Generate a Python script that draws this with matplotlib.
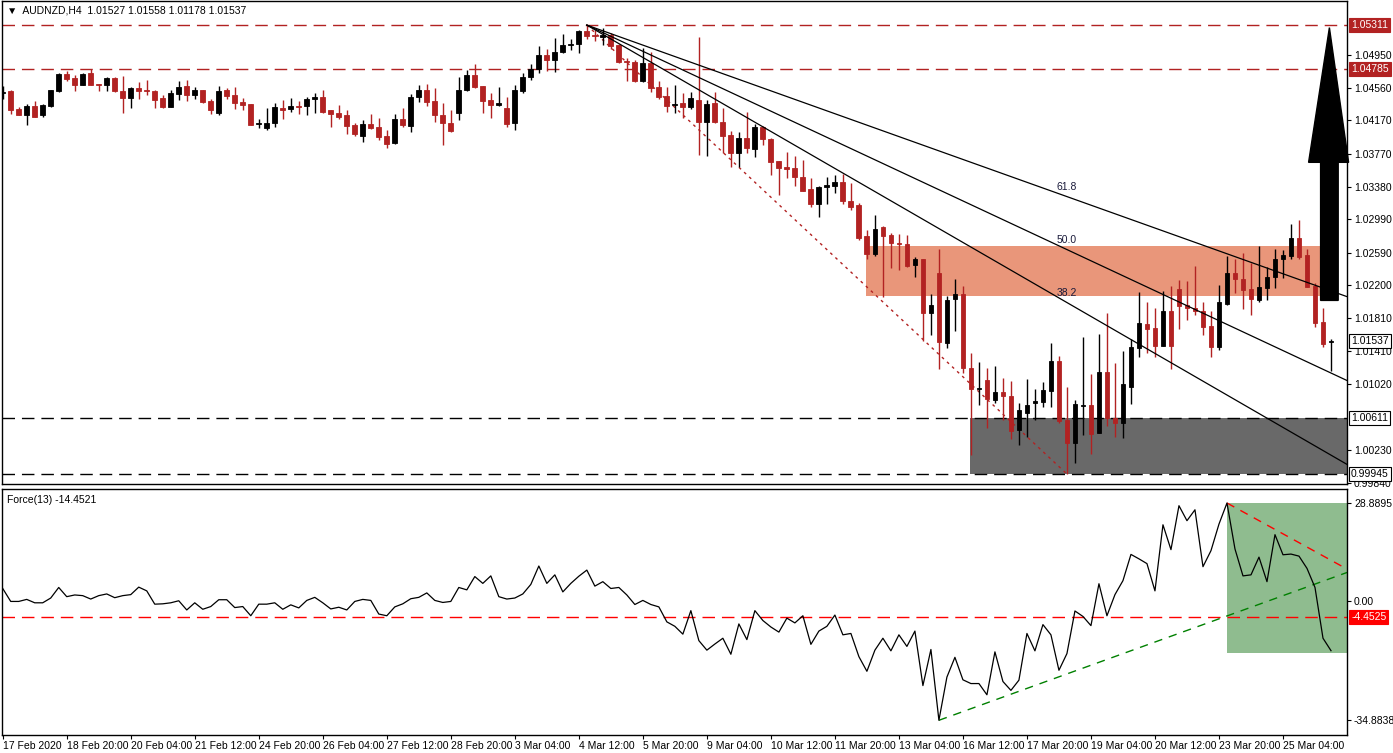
import matplotlib
matplotlib.use("Agg")
import matplotlib.pyplot as plt
from matplotlib.patches import Rectangle, Polygon
import numpy as np

plt.rcParams['font.family'] = ['Liberation Sans', 'DejaVu Sans']

opens = [1.0450,1.0452,1.0431,1.0424,1.0434,1.0423,1.0434,1.0452,1.0472,1.0468,
1.0459,1.0474,1.0461,1.0460,1.0468,1.0452,1.0444,1.0456,1.0453,1.0452,
1.0444,1.0433,1.0449,1.0458,1.0447,1.0454,1.0440,1.0426,1.0453,1.0447,
1.0439,1.0437,1.0413,1.0408,1.0414,1.0432,1.0431,1.0434,1.0434,1.0443,
1.0445,1.0429,1.0426,1.0423,1.0412,1.0399,1.0413,1.0409,1.0399,1.0390,
1.0419,1.0411,1.0445,1.0454,1.0440,1.0424,1.0414,1.0426,1.0453,1.0471,
1.0458,1.0441,1.0435,1.0432,1.0414,1.0452,1.0469,1.0479,1.0495,1.0489,
1.0499,1.0507,1.0508,1.0524,1.0519,1.0517,1.0519,1.0507,1.0488,1.0487,
1.0464,1.0486,1.0457,1.0446,1.0435,1.0438,1.0433,1.0441,1.0415,1.0438,
1.0415,1.0400,1.0378,1.0396,1.0383,1.0409,1.0395,1.0369,1.0361,1.0360,
1.0349,1.0335,1.0317,1.0337,1.0339,1.0344,1.0321,1.0316,1.0279,1.0258,
1.0290,1.0280,1.0271,1.0269,1.0244,1.0252,1.0187,1.0235,1.0151,1.0204,
1.0210,1.0121,1.0096,1.0107,1.0083,1.0093,1.0088,1.0047,1.0067,1.0079,
1.0081,1.0094,1.0130,1.0059,1.0032,1.0076,1.0077,1.0044,1.0117,1.0062,
1.0056,1.0099,1.0145,1.0174,1.0169,1.0147,1.0189,1.0216,1.0196,1.0193,
1.0189,1.0171,1.0146,1.0198,1.0235,1.0228,1.0216,1.0203,1.0217,1.0230,
1.0252,1.0255,1.0277,1.0256,1.0219,1.0176,1.01527]

closes = [1.0451,1.0430,1.0424,1.0434,1.0421,1.0435,1.0453,1.0472,1.0467,1.0459,
1.0472,1.0460,1.0460,1.0468,1.0452,1.0444,1.0456,1.0452,1.0452,1.0441,
1.0433,1.0450,1.0457,1.0447,1.0454,1.0439,1.0429,1.0452,1.0446,1.0438,
1.0435,1.0412,1.0414,1.0414,1.0433,1.0430,1.0434,1.0433,1.0443,1.0445,
1.0427,1.0425,1.0421,1.0411,1.0401,1.0413,1.0408,1.0397,1.0389,1.0419,
1.0412,1.0445,1.0454,1.0439,1.0423,1.0414,1.0405,1.0454,1.0471,1.0457,
1.0440,1.0435,1.0438,1.0413,1.0453,1.0469,1.0479,1.0495,1.0489,1.0499,
1.0507,1.0508,1.0524,1.0518,1.0518,1.0519,1.0506,1.0487,1.0487,1.0464,
1.0486,1.0456,1.0445,1.0434,1.0437,1.0433,1.0444,1.0415,1.0437,1.0415,
1.0399,1.0378,1.0396,1.0384,1.0409,1.0395,1.0367,1.0360,1.0359,1.0349,
1.0333,1.0317,1.0337,1.0340,1.0344,1.0321,1.0314,1.0277,1.0258,1.0287,
1.0279,1.0271,1.0269,1.0243,1.0252,1.0187,1.0196,1.0152,1.0202,1.0210,
1.0121,1.0096,1.0097,1.0084,1.0093,1.0088,1.0046,1.0071,1.0077,1.0082,
1.0095,1.0130,1.0058,1.0032,1.0078,1.0077,1.0042,1.0117,1.0061,1.0056,
1.0102,1.0146,1.0175,1.0168,1.0147,1.0189,1.0148,1.0195,1.0193,1.0189,
1.0170,1.0146,1.0200,1.0235,1.0228,1.0214,1.0204,1.0218,1.0230,1.0252,
1.0256,1.0277,1.0254,1.0218,1.0175,1.0150,1.01537]

highs = [1.0458,1.0453,1.0433,1.0437,1.0440,1.0437,1.0454,1.0474,1.0476,1.0471,
1.0474,1.0479,1.0461,1.0469,1.0469,1.0470,1.0457,1.0463,1.0465,1.0453,
1.0447,1.0453,1.0464,1.0465,1.0457,1.0454,1.0443,1.0458,1.0456,1.0457,
1.0444,1.0437,1.0419,1.0432,1.0438,1.0441,1.0444,1.0440,1.0445,1.0450,
1.0454,1.0429,1.0435,1.0430,1.0414,1.0418,1.0425,1.0420,1.0406,1.0425,
1.0432,1.0449,1.0460,1.0461,1.0456,1.0438,1.0430,1.0469,1.0477,1.0485,
1.0458,1.0450,1.0457,1.0445,1.0460,1.0474,1.0485,1.0506,1.0502,1.0516,
1.0520,1.0514,1.0525,1.0531,1.0525,1.0528,1.0522,1.0508,1.0492,1.0489,
1.0504,1.0499,1.0464,1.0457,1.0459,1.0450,1.0451,1.0517,1.0441,1.0451,
1.0432,1.0405,1.0403,1.0427,1.0413,1.0411,1.0396,1.0369,1.0379,1.0375,
1.0370,1.0348,1.0339,1.0349,1.0352,1.0353,1.0342,1.0318,1.0286,1.0304,
1.0291,1.0282,1.0281,1.0280,1.0254,1.0252,1.0210,1.0263,1.0207,1.0228,
1.0219,1.0139,1.0128,1.0121,1.0124,1.0109,1.0106,1.0079,1.0108,1.0096,
1.0104,1.0151,1.0136,1.0099,1.0083,1.0158,1.0114,1.0162,1.0187,1.0127,
1.0142,1.0156,1.0212,1.0200,1.0193,1.0213,1.0219,1.0226,1.0225,1.0243,
1.0200,1.0189,1.0220,1.0255,1.0252,1.0259,1.0247,1.0267,1.0242,1.0264,
1.0262,1.0293,1.0298,1.0263,1.0223,1.0193,1.01558]

lows = [1.0443,1.0425,1.0423,1.0412,1.0421,1.0421,1.0433,1.0451,1.0464,1.0452,
1.0459,1.0459,1.0452,1.0452,1.0451,1.0426,1.0432,1.0443,1.0447,1.0432,
1.0432,1.0433,1.0441,1.0440,1.0443,1.0438,1.0425,1.0423,1.0443,1.0431,
1.0430,1.0412,1.0408,1.0406,1.0409,1.0419,1.0427,1.0425,1.0423,1.0426,
1.0426,1.0409,1.0419,1.0401,1.0399,1.0391,1.0407,1.0394,1.0384,1.0389,
1.0409,1.0403,1.0439,1.0434,1.0415,1.0388,1.0403,1.0417,1.0452,1.0456,
1.0426,1.0420,1.0434,1.0409,1.0406,1.0450,1.0465,1.0474,1.0476,1.0475,
1.0498,1.0501,1.0498,1.0514,1.0512,1.0507,1.0502,1.0486,1.0464,1.0463,
1.0463,1.0451,1.0443,1.0427,1.0426,1.0420,1.0431,1.0376,1.0375,1.0414,
1.0378,1.0361,1.0361,1.0378,1.0373,1.0388,1.0352,1.0328,1.0348,1.0339,
1.0333,1.0314,1.0302,1.0317,1.0330,1.0317,1.0310,1.0274,1.0252,1.0255,
1.0206,1.0241,1.0238,1.0242,1.0230,1.0153,1.0161,1.0120,1.0145,1.0165,
1.0115,1.0017,1.0077,1.0050,1.0079,1.0059,1.0036,1.0029,1.0039,1.0059,
1.0075,1.0075,1.0056,0.99945,1.0008,1.0041,1.0018,1.0044,1.0052,1.0039,
1.0037,1.0078,1.0134,1.0139,1.0134,1.0147,1.0120,1.0168,1.0179,1.0185,
1.0161,1.0134,1.0143,1.0196,1.0211,1.0192,1.0185,1.0200,1.0203,1.0217,
1.0229,1.0252,1.0252,1.0218,1.0170,1.0146,1.01178]

force = [3.8,0,0,0.6,-0.4,-0.4,1.0,4.1,1.4,1.9, 1.7,0.7,1.7,2.2,1.1,1.7,2.0,4.2,3.1,-0.8,
-0.7,-0.4,0.2,-2.5,-0.4,-2.3,-1.5,0.5,0.5,-1.8, -1.5,-4.2,-0.8,-0.8,-0.4,-2.3,-1.0,-1.9,0.3,1.2,
-0.4,-2.2,-1.7,-2.5,0,0.6,0.3,-3.7,-4.2,-1.6, -0.7,0.8,1.2,2.5,0.3,-0.3,0,4.1,3.4,7.3,
5.3,7.5,1.4,0.7,1.0,2.2,5.0,10.4,5.3,7.8, 2.8,5.3,7.4,9.2,4.5,5.8,3.8,4.1,1.9,-0.9,
0.3,-0.9,-1.6,-6.0,
-7.3,-9.6,-2.7,-11.5,-14.3,-12.5,-10.8,-15.5,-6.6,-11.2,
-2.7,-5.6,-7.5,-9.0,-4.9,-6.3,-4.2,-12.6,-8.7,-7.3,
-4.0,-9.8,-9.4,-16.2,-20.5,-14.3,-10.8,-14.5,-9.8,-13.2,
-8.7,-24.7,-14.1,-34.88,-22.2,-16.4,-23.0,-24.1,-24.1,-27.4,
-14.8,-23.5,-26.1,-23.1,-9.4,-14.5,-6.8,-9.8,-20.2,-15.3,
-2.8,-4.4,-7.1,5.2,-4.2,2.0,6.1,13.8,12.5,11.1,
3.1,22.5,15.2,28.1,23.7,26.9,10.2,14.9,22.7,28.89,
15.4,7.5,7.8,13.0,5.8,19.6,13.7,13.9,13.3,9.7,
4.1,-10.8,-14.45]

date_labels = ["17 Feb 2020","18 Feb 20:00","20 Feb 04:00","21 Feb 12:00","24 Feb 20:00",
"26 Feb 04:00","27 Feb 12:00","28 Feb 20:00","3 Mar 04:00","4 Mar 12:00","5 Mar 20:00",
"9 Mar 04:00","10 Mar 12:00","11 Mar 20:00","13 Mar 04:00","16 Mar 12:00","17 Mar 20:00",
"19 Mar 04:00","20 Mar 12:00","23 Mar 20:00","25 Mar 04:00"]

price_ticks = [1.04950,1.04560,1.04170,1.03770,1.03380,1.02990,1.02590,1.02200,
               1.01810,1.01410,1.01020,1.00230,0.99840]

level_high = 1.05311
level_res = 1.04785
level_sup = 1.00611
level_low = 0.99945
last_price = 1.01537
zone_top, zone_bot = 1.0267, 1.0207
fan_levels = [61.8, 50.0, 38.2]
force_level = -4.4525
force_max, force_min = 28.8895, -34.8838

n = min(len(opens), len(closes), len(highs), len(lows))
x = np.arange(n)
RED = '#B22222'
FS = 7.5

W, H = 1393, 753
fig = plt.figure(figsize=(W/100, H/100), dpi=100)
axL, axR = 2/W, 1347/W
ax = fig.add_axes([axL, (H-484)/H, axR-axL, 483/H])
axf = fig.add_axes([axL, (H-735)/H, axR-axL, 246/H])

xlim = (-0.09, 168.0)
ax.set_xlim(*xlim)
ax.set_ylim(0.99826, 1.05598)

ax.add_patch(Rectangle((107.9, zone_bot), 164.6-107.9, zone_top-zone_bot, color='#E9967A', zorder=0, lw=0))
ax.add_patch(Rectangle((120.9, level_low), xlim[1]-120.9, level_sup-level_low, color='#696969', zorder=0, lw=0))

ax.axhline(level_high, color=RED, ls=(0, (9, 5)), lw=1, zorder=1)
ax.axhline(level_res, color=RED, ls=(0, (9, 5)), lw=1, zorder=1)
ax.axhline(level_sup, color='black', ls=(0, (9, 5)), lw=1, zorder=1)
ax.axhline(level_low, color='black', ls=(0, (9, 5)), lw=1, zorder=1)

o = np.array(opens[:n]); c = np.array(closes[:n]); h = np.array(highs[:n]); l = np.array(lows[:n])
bull = c >= o
cols = np.where(bull, 'black', RED)
ax.vlines(x, l, h, colors=cols, lw=1, zorder=3)
bottoms = np.minimum(o, c)
heights = np.maximum(np.abs(c - o), 0.00002)
ax.bar(x, heights, bottom=bottoms, width=0.6, color=cols, edgecolor=cols, lw=0.6, zorder=4)

i_hi, i_lo = 73, 133
p_hi, p_lo = highs[73], lows[133]
ax.plot([i_hi, i_lo], [p_hi, p_lo], color=RED, ls=(0, (2, 3)), lw=1, zorder=2)
for lv in fan_levels:
    p_at = p_lo + lv/100*(p_hi - p_lo)
    slope = (p_at - p_hi)/(i_lo - i_hi)
    ax.plot([i_hi, xlim[1]], [p_hi, p_hi + slope*(xlim[1]-i_hi)], color='black', lw=0.9, zorder=5)
    ax.text(i_lo, p_at + 0.0005, f"{lv:.1f}", fontsize=FS, ha='center', va='bottom', color='#1a1a3a', zorder=6)

arrow = Polygon([(164.7, 1.0202), (166.9, 1.0202), (166.9, 1.0367), (168.2, 1.0367),
                 (165.8, 1.0528), (163.2, 1.0367), (164.7, 1.0367)], closed=True,
                color='black', zorder=7, clip_on=False)
ax.add_patch(arrow)

for a in (ax, axf):
    for s in a.spines.values():
        s.set_color('black'); s.set_linewidth(1)
    a.yaxis.tick_right()
    a.tick_params(axis='y', labelsize=FS, length=3, pad=2, direction='out')
ax.set_xticks([])
ax.set_yticks(price_ticks)
ax.set_yticklabels([f"{t:.5f}" for t in price_ticks])

def box(a, y, txt, fc, tc, ec):
    a.text(1.003, y, txt, transform=a.get_yaxis_transform(), fontsize=FS, ha='left', va='center',
           color=tc, bbox=dict(boxstyle='square,pad=0.2', fc=fc, ec=ec, lw=0.8), zorder=10, clip_on=False)

box(ax, level_high, f"{level_high:.5f}", RED, 'white', RED)
box(ax, level_res, f"{level_res:.5f}", RED, 'white', RED)
box(ax, last_price, f"{last_price:.5f}", 'white', 'black', 'black')
box(ax, level_sup, f"{level_sup:.5f}", 'white', 'black', 'black')
box(ax, level_low, f"{level_low:.5f}", 'white', 'black', 'black')

ax.text(0.004, 0.991, "\u25BC  AUDNZD,H4  1.01527 1.01558 1.01178 1.01537", transform=ax.transAxes,
        fontsize=FS, ha='left', va='top', family=['DejaVu Sans'] if False else None)

axf.set_xlim(*xlim)
axf.set_ylim(-39.2, 33.0)
fx = np.arange(len(force))
axf.add_patch(Rectangle((153, -15.2), xlim[1]-153, force_max+15.2, color='#8FBC8F', lw=0, zorder=0))
axf.axhline(force_level, color='#FF0000', ls=(0, (9, 5)), lw=1, zorder=1)
axf.plot([117, xlim[1]], [force_min, 8.5], color='#008000', ls=(0, (6, 5)), lw=1, zorder=2)
axf.plot([153, xlim[1]], [force_max, 9.5], color='#FF0000', ls=(0, (6, 5)), lw=1, zorder=2)
axf.plot(fx, force, color='black', lw=0.9, zorder=3)
axf.set_yticks([force_max, 0, force_min])
axf.set_yticklabels(["28.8895", "0.00", "-34.8838"])
box(axf, force_level, "-4.4525", '#FF0000', 'white', '#FF0000')
axf.text(0.004, 0.975, "Force(13) -14.4521", transform=axf.transAxes, fontsize=FS, ha='left', va='top')

axf.set_xticks(np.arange(len(date_labels))*8)
axf.set_xticklabels(date_labels, fontsize=FS, ha='left')
axf.tick_params(axis='x', length=3, pad=1, direction='out')

fig.savefig("out.png", dpi=100)
